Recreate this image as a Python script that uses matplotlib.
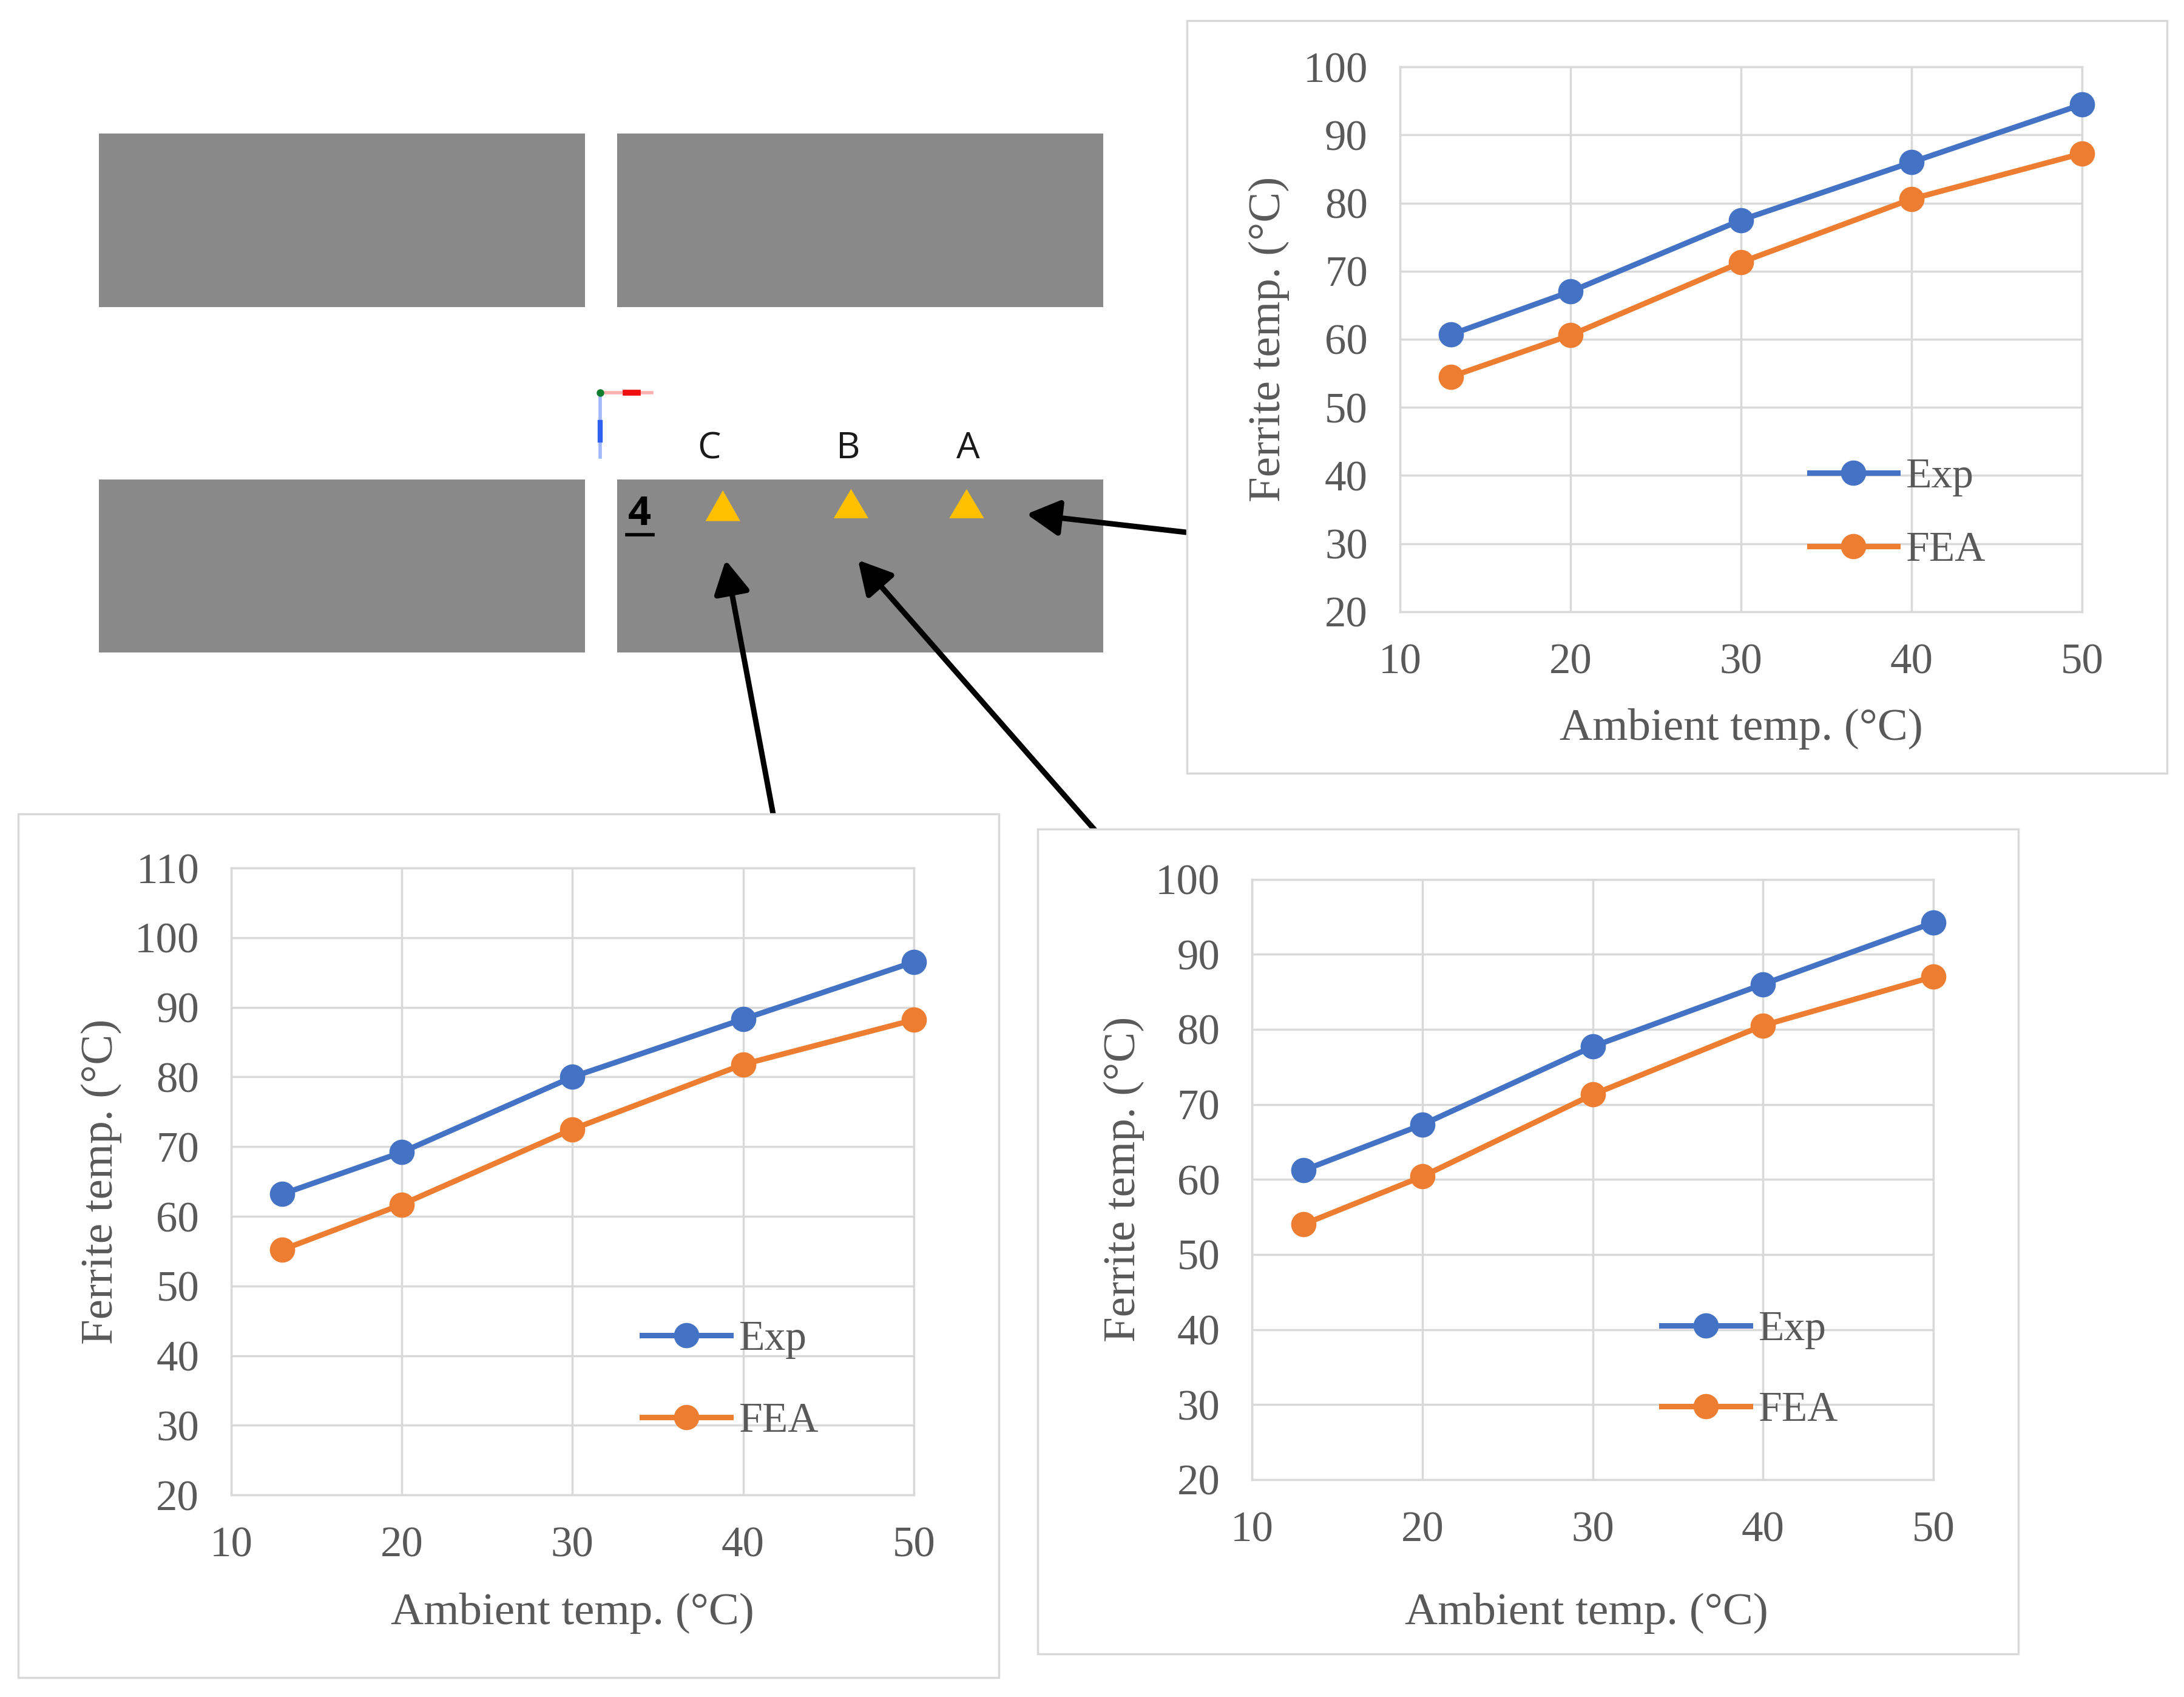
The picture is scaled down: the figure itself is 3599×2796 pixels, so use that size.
#!/usr/bin/env python
"""
Ferrite temperature at points A, B, C: three charts around the core layout.
"""
import matplotlib
matplotlib.use('Agg')
import matplotlib.pyplot as plt
from matplotlib.patches import Rectangle

ambient = [13, 20, 30, 40, 50]
x_ticks = [10, 20, 30, 40, 50]

exp_a = [60.7, 67.0, 77.5, 86.0, 94.5]
fea_a = [54.5, 60.6, 71.3, 80.6, 87.3]
exp_b = [61.2, 67.3, 77.7, 86.0, 94.2]
fea_b = [54.0, 60.4, 71.3, 80.5, 87.0]
exp_c = [63.2, 69.2, 80.0, 88.3, 96.5]
fea_c = [55.2, 61.7, 72.5, 81.8, 88.2]

y_ticks_ab = list(range(20, 101, 10))
y_ticks_c = list(range(20, 111, 10))

BLUE = '#4472C4'
ORANGE = '#ED7D31'
GRID = '#D9D9D9'
TEXT = '#595959'
CORE = '#898989'
W, H = 1568.0, 1218.0   # layout units

plt.rcParams['font.family'] = ['Liberation Serif', 'DejaVu Serif']

fig = plt.figure(figsize=(35.99, 27.96), dpi=100)

# background layer for the layout sketch
bg = fig.add_axes([0, 0, 1, 1])
bg.set_xlim(0, W)
bg.set_ylim(H, 0)
bg.axis('off')

for x0, y0 in [(71, 96), (443, 96), (71, 344), (443, 344)]:
    bg.add_patch(Rectangle((x0, y0), 349, 124.5, fc=CORE, ec='none'))

# coordinate triad
bg.plot([431, 468], [282, 282], color='#FFB0B0', lw=4)
bg.plot([449, 458], [282, 282], color='#F01010', lw=7)
bg.plot([431, 431], [282, 328], color='#A0B8FF', lw=4)
bg.plot([431, 431], [303, 316], color='#3060F0', lw=6)
bg.plot([431], [282], 'o', color='#108030', ms=8)

for label, lx in [('C', 509), ('B', 609), ('A', 695)]:
    bg.text(lx, 322, label, family='Open Sans', fontsize=44, color='#1A1A1A',
            ha='center', va='center')
bg.text(459, 369, '4', family='Open Sans', fontweight='bold', fontsize=48,
        color='black', ha='center', va='center')
bg.plot([450, 469], [384, 384], color='black', lw=4)

for cx, top, bot in [(519, 352, 374), (611, 351, 372), (694, 351, 372)]:
    bg.fill([cx - 12.5, cx, cx + 12.5], [bot, top, bot], color='#FFC000', lw=0)

# arrows run under the chart boxes
for start, end in [((860, 383), (737, 369)), ((558, 600), (521, 402)),
                   ((795, 606), (616, 402))]:
    bg.annotate('', xy=end, xytext=start,
                arrowprops=dict(arrowstyle='-|>,head_length=1.1,head_width=0.6',
                                color='black', lw=6.5, mutation_scale=30,
                                shrinkA=0, shrinkB=0))


def draw_panel(box, area, exp, fea, yticks, xlab, ylab_x, leg_x, leg_ys):
    bx0, by0, bx1, by1 = box
    bg.add_patch(Rectangle((bx0, by0), bx1 - bx0, by1 - by0, fc='white',
                           ec=GRID, lw=2.5, zorder=5))
    ax0, ay0, ax1, ay1 = area
    ax = fig.add_axes([ax0 / W, 1 - ay1 / H, (ax1 - ax0) / W, (ay1 - ay0) / H])
    ax.patch.set_alpha(0)
    l1, = ax.plot(ambient, exp, '-o', color=BLUE, lw=6.5, ms=29, clip_on=False,
                  zorder=4, label='Exp')
    l2, = ax.plot(ambient, fea, '-o', color=ORANGE, lw=6.5, ms=29, clip_on=False,
                  zorder=4, label='FEA')
    ax.set_xlim(10, 50)
    ax.set_ylim(yticks[0], yticks[-1])
    ax.set_xticks(x_ticks)
    ax.set_yticks(yticks)
    ax.grid(True, color=GRID, lw=2.5)
    ax.set_axisbelow(True)
    for s in ax.spines.values():
        s.set_color(GRID)
        s.set_linewidth(2.5)
    ax.tick_params(length=0, labelsize=51, labelcolor=TEXT, pad=38)
    ax.tick_params(axis='x', pad=37)
    ax.set_xlabel('Ambient temp. (°C)', fontsize=54, color=TEXT)
    ax.set_ylabel('Ferrite temp. (°C)', fontsize=54, color=TEXT)
    ax.xaxis.set_label_coords((xlab[0] - ax0) / (ax1 - ax0), (ay1 - xlab[1]) / (ay1 - ay0))
    ax.yaxis.set_label_coords((ylab_x - ax0) / (ax1 - ax0), 0.5)
    ax.xaxis.label.set_va('center')
    ax.yaxis.label.set_va('center')
    spacing = (leg_ys[1] - leg_ys[0]) * 2.295 / 69.0 - 0.9
    mid = (leg_ys[0] + leg_ys[1]) / 2.0
    ax.legend(handles=[l1, l2], loc='center left', frameon=False, fontsize=50,
              labelcolor=TEXT, handlelength=2.1, handletextpad=0.2,
              labelspacing=spacing, borderpad=0, borderaxespad=0, numpoints=1,
              bbox_to_anchor=((leg_x - ax0) / (ax1 - ax0), (ay1 - mid) / (ay1 - ay0)))
    return ax


draw_panel((852, 15, 1556, 555), (1005, 48, 1495, 439), exp_a, fea_a, y_ticks_ab,
           (1250, 523), 911, 1299, (343, 395))
draw_panel((13, 584, 717, 1204), (166, 623, 656, 1073), exp_c, fea_c, y_ticks_c,
           (411, 1158), 73, 461, (962, 1020))
draw_panel((745, 595, 1449, 1187), (899, 631, 1388, 1062), exp_b, fea_b, y_ticks_ab,
           (1139, 1158), 807, 1193, (955, 1012))

fig.savefig('out.png', dpi=100, facecolor='white')
